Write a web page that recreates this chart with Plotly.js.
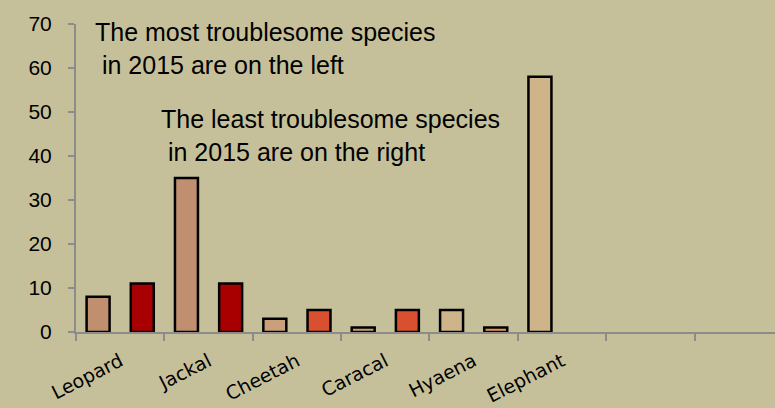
<!DOCTYPE html>
<html>
<head>
<meta charset="utf-8">
<script src="https://cdn.plot.ly/plotly-3.0.1.min.js"></script>
<style>html,body{margin:0;padding:0;background:#c6c09a;}#chart{width:775px;height:408px;}</style>
</head>
<body>
<div id="chart"></div>
<script>
const categories = ['Leopard', 'Jackal', 'Cheetah', 'Caracal', 'Hyaena', 'Elephant', ' ', '  '];
const seriesA = [8, 35, 3, 1, 5, 58, null, null];
const seriesB = [11, 11, 5, 5, 1, null, null, null];
const colorsA = ['#c08f70', '#c08f70', '#c9a07a', '#c9a07a', '#ceb488', '#ceb488', '#ceb488', '#ceb488'];
const colorsB = ['#a80000', '#a80000', '#d85030', '#d85030', '#f0955a', '#f0955a', '#f0955a', '#f0955a'];
const yTicks = [0, 10, 20, 30, 40, 50, 60, 70];
const note1 = 'The most troublesome species<br>\u00a0in 2015 are on the left';
const note2 = 'The least troublesome species<br>\u00a0in 2015 are on the right';

const traces = [
  {type: 'bar', x: categories, y: seriesA, marker: {color: colorsA, line: {color: '#000', width: 2.5}}, hoverinfo: 'skip'},
  {type: 'bar', x: categories, y: seriesB, marker: {color: colorsB, line: {color: '#000', width: 2.5}}, hoverinfo: 'skip'}
];

const layout = {
  width: 775, height: 408,
  paper_bgcolor: '#c6c09a', plot_bgcolor: '#c6c09a',
  margin: {l: 76, r: 0, t: 24, b: 76},
  showlegend: false,
  barmode: 'group', bargap: 0, bargroupgap: 0.48,
  xaxis: {
    type: 'category', range: [-0.5, 7.41], tickson: 'boundaries',
    showline: true, linecolor: '#8c8c8c', linewidth: 2,
    ticks: 'outside', ticklen: 7, tickwidth: 2, tickcolor: '#8c8c8c',
    ticklabelstandoff: 9,
    tickangle: -27, tickfont: {family: 'DejaVu Sans', size: 19, color: '#000'},
    showgrid: false, zeroline: false, fixedrange: true
  },
  yaxis: {
    range: [0, 70], tickvals: yTicks, ticktext: yTicks.map(String),
    showline: true, linecolor: '#8c8c8c', linewidth: 2,
    ticks: 'outside', ticklen: 6, tickwidth: 2, tickcolor: '#8c8c8c',
    ticklabelstandoff: 12,
    tickfont: {family: 'Liberation Sans', size: 21, color: '#000'},
    showgrid: false, zeroline: false, fixedrange: true
  },
  annotations: [
    {xref: 'paper', yref: 'paper', x: 0.024, y: 1.025, xanchor: 'left', yanchor: 'top', align: 'left', showarrow: false,
     text: note1, font: {family: 'Liberation Sans', size: 25, color: '#000'}},
    {xref: 'paper', yref: 'paper', x: 0.119, y: 0.745, xanchor: 'left', yanchor: 'top', align: 'left', showarrow: false,
     text: note2, font: {family: 'Liberation Sans', size: 25, color: '#000'}}
  ]
};

Plotly.newPlot('chart', traces, layout, {staticPlot: true, displayModeBar: false});
</script>
</body>
</html>
